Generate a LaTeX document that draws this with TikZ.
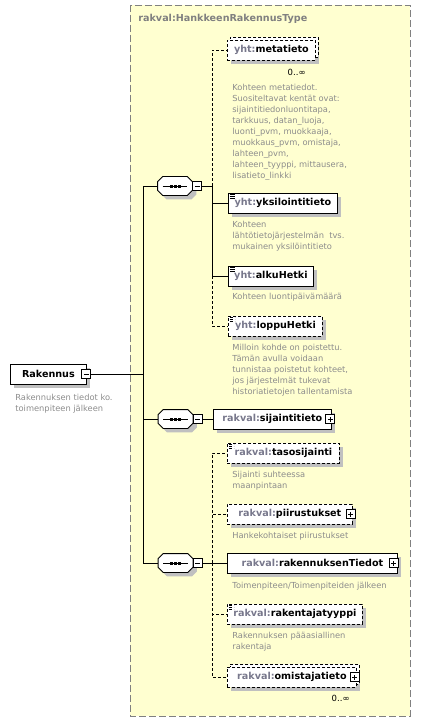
\documentclass[tikz,border=0pt]{standalone}
\usepackage{fontspec}
\setmainfont{DejaVu Sans}
\usetikzlibrary{shadows}
\definecolor{typeyellow}{RGB}{255,255,208}
\definecolor{bordergray}{RGB}{128,128,128}
\definecolor{shadowgray}{RGB}{192,192,192}
\definecolor{descgray}{RGB}{140,140,140}
\definecolor{pfxgray}{RGB}{120,120,140}
\newcommand\nspfx[1]{\textcolor{pfxgray}{#1}}
\begin{document}
\begin{tikzpicture}[x=1pt,y=-1pt,line width=0.8pt,
  elem/.style={draw,fill=white,minimum height=20pt,inner sep=1pt,anchor=west,
    font=\fontsize{9.6}{11}\selectfont\bfseries,
    drop shadow={shadow xshift=4pt,shadow yshift=-4pt,fill=shadowgray,opacity=1}},
  optional/.style={dash pattern=on 3pt off 2pt},
  many/.style={copy shadow={shadow xshift=3pt,shadow yshift=3pt,fill=white,draw=black,dash pattern=on 3pt off 2pt}},
  simpletype/.style={path picture={
    \foreach \k in {1.5,3.5,5.5}
      \draw[line width=0.8pt] ([shift={(1.5pt,-\k pt)}]path picture bounding box.north west) -- ++(5pt,0pt);}},
  seqbox/.style={minimum width=34pt,minimum height=18pt,inner sep=0pt},
  minusbox/.style={draw,fill=white,minimum size=9pt,inner sep=0pt,line width=0.7pt,
    path picture={\draw ([xshift=2pt]path picture bounding box.west) -- ([xshift=-2pt]path picture bounding box.east);}},
  plusbox/.style={draw,fill=white,minimum size=9pt,inner sep=0pt,line width=0.7pt,
    path picture={\draw ([xshift=2pt]path picture bounding box.west) -- ([xshift=-2pt]path picture bounding box.east);
      \draw ([yshift=2pt]path picture bounding box.south) -- ([yshift=-2pt]path picture bounding box.north);}},
  desc/.style={anchor=north west,inner sep=0pt,align=left,text=descgray,font=\fontsize{8.3}{11}\selectfont},
  mult/.style={anchor=base east,inner sep=0pt,font=\fontsize{8.5}{10}\selectfont}]
\useasboundingbox (0,0) rectangle (421,722);
\draw[draw=bordergray,fill=typeyellow,dash pattern=on 7pt off 3pt] (130,5) rectangle (410,716);
\node[anchor=west,inner sep=0pt,text=bordergray,font=\fontsize{9.6}{11}\selectfont\bfseries] (typetitle) at (138,19) {rakval:HankkeenRakennusType};

\node[elem,minimum width=76pt] (rak) at (10,374) {Rakennus\hspace{7pt}};
\node[minusbox] (rakm) at ([xshift=-0.5pt]rak.east) {};
\node[desc] (rakdesc) at (15,394.2) {Rakennuksen tiedot ko.\\toimenpiteen jälkeen};

\node[seqbox] (seqa) at (175,186) {};
\node[seqbox] (seqb) at (175.5,419) {};
\node[seqbox] (seqc) at (175.5,563) {};
\foreach \s in {seqa,seqb,seqc}{
  \filldraw[fill=white,drop shadow={shadow xshift=4pt,shadow yshift=-4pt,fill=shadowgray,opacity=1}]
    ([xshift=5pt]\s.north west) -- ([xshift=-5pt]\s.north east) -- ([yshift=-5pt]\s.north east)
    -- ([yshift=5pt]\s.south east) -- ([xshift=-5pt]\s.south east) -- ([xshift=5pt]\s.south west)
    -- ([yshift=5pt]\s.south west) -- ([yshift=-5pt]\s.north west) -- cycle;
  \draw ([xshift=5pt]\s.west) -- ([xshift=-5pt]\s.east);
  \foreach \d in {-5.5,-1.5,2.5}
    \fill ([shift={(\d pt,-1.5pt)}]\s.center) rectangle ([shift={(\d pt+3pt,1.5pt)}]\s.center);
}
\node[minusbox,anchor=west] (seqam) at (seqa.east) {};
\node[minusbox,anchor=west] (seqbm) at (seqb.east) {};
\node[minusbox,anchor=west] (seqcm) at (seqc.east) {};

\node[elem,optional,many,minimum width=88pt] (meta) at (227,50) {\nspfx{yht:}metatieto};
\node[mult] (metamult) at (306,76) {0..∞};
\node[desc] (metadesc) at (232,84.2) {Kohteen metatiedot.\\Suositeltavat kentät ovat:\\sijaintitiedonluontitapa,\\tarkkuus, datan\_luoja,\\luonti\_pvm, muokkaaja,\\muokkaus\_pvm, omistaja,\\lahteen\_pvm,\\lahteen\_tyyppi, mittausera,\\lisatieto\_linkki};
\node[elem,simpletype,minimum width=109pt] (yks) at (228,203) {\nspfx{yht:}yksilointitieto};
\node[desc] (yksdesc) at (232,221.2) {Kohteen\\lähtötietojärjestelmän\ \ tvs.\\mukainen yksilöintitieto};
\node[elem,simpletype,minimum width=85pt] (alku) at (228,276) {\nspfx{yht:}alkuHetki};
\node[desc] (alkudesc) at (232,293.2) {Kohteen luontipäivämäärä};
\node[elem,optional,simpletype,minimum width=94pt] (loppu) at (228,326) {\nspfx{yht:}loppuHetki};
\node[desc] (loppudesc) at (232,344.2) {Milloin kohde on poistettu.\\Tämän avulla voidaan\\tunnistaa poistetut kohteet,\\jos järjestelmät tukevat\\historiatietojen tallentamista};

\node[elem,minimum width=118pt] (sij) at (213,419) {\nspfx{rakval:}sijaintitieto\hspace{8pt}};
\node[plusbox] (sijplus) at ([xshift=-1.5pt]sij.east) {};

\node[elem,optional,simpletype,minimum width=112pt] (taso) at (227,453) {\nspfx{rakval:}tasosijainti};
\node[desc] (tasodesc) at (232,471.2) {Sijainti suhteessa\\maanpintaan};
\node[elem,optional,minimum width=125pt] (piir) at (227,514) {\nspfx{rakval:}piirustukset\hspace{8pt}};
\node[plusbox] (piirplus) at ([xshift=-2pt]piir.east) {};
\node[desc] (piirdesc) at (232,532.2) {Hankekohtaiset piirustukset};
\node[elem,minimum width=170pt] (rakt) at (227,563) {\nspfx{rakval:}rakennuksenTiedot\hspace{8pt}};
\node[plusbox] (raktplus) at ([xshift=-4pt]rakt.east) {};
\node[desc] (raktdesc) at (232,582.2) {Toimenpiteen/Toimenpiteiden jälkeen};
\node[elem,optional,simpletype,minimum width=135pt] (rakty) at (227,614) {\nspfx{rakval:}rakentajatyyppi};
\node[desc] (raktydesc) at (232,632.2) {Rakennuksen pääasiallinen\\rakentaja};
\node[elem,optional,many,minimum width=129pt] (omis) at (227,677) {\nspfx{rakval:}omistajatieto\hspace{8pt}};
\node[plusbox] (omisplus) at ([xshift=-2pt]omis.east) {};
\node[mult] (omismult) at (350,701) {0..∞};

\coordinate (jr) at (143,374);
\coordinate (ja) at (212,186);
\coordinate (jc) at (212,563);
\draw (rakm.east) -- (jr);
\draw (seqa.west) -- (seqa.west -| jr) |- (seqc.west);
\draw (seqb.west) -- (seqb.west -| jr);
\draw (seqam.east) -- (ja);
\draw[optional] (ja) |- (meta.west);
\draw (ja) |- (yks.west);
\draw (ja) |- (alku.west);
\draw[optional] (alku.west -| ja) |- (loppu.west);
\draw (seqbm.east) -- (sij.west);
\draw (seqcm.east) -- (rakt.west);
\draw[optional] (jc) |- (taso.west);
\draw[optional] (jc) |- (piir.west);
\draw[optional] (jc) |- (rakty.west);
\draw[optional] (jc) |- (omis.west);
\end{tikzpicture}
\end{document}
